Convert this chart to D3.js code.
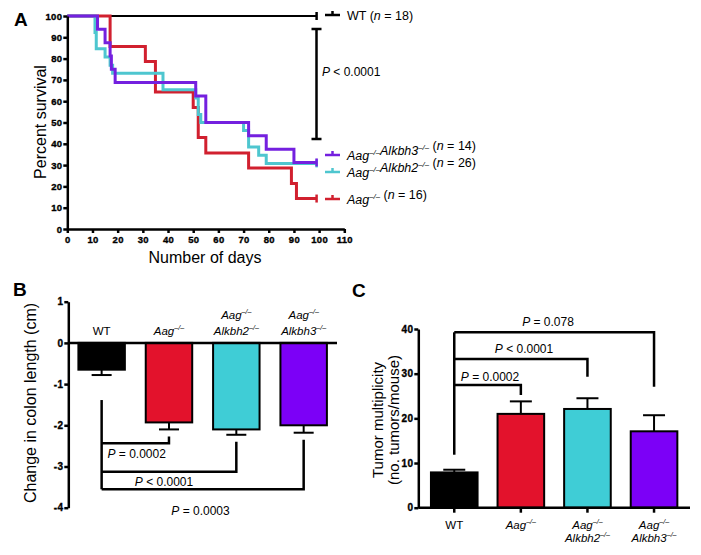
<!DOCTYPE html>
<html><head><meta charset="utf-8">
<script src="https://cdn.jsdelivr.net/npm/d3@7"></script>
<style>
body{margin:0;background:#fff;}
svg{display:block;font-family:"Liberation Sans",Arial,Helvetica,sans-serif;}
</style></head>
<body>
<svg id="c" width="701" height="555"></svg>
<script>
// ---------- DATA ----------
// Panel A: Kaplan–Meier steps [day, percent survival]
const survWT = [[0,100]];
const survAag = [[0,100],[17,85.7],[31,78.6],[35,64.3],[50,57.1],[52,42.9],[55,35.7],[72,28.6],[89,21.4],[91,14.3]];
const survAlkbh2 = [[0,100],[11,92.3],[11.5,84.6],[15,80.8],[17,76.9],[18,73.1],[38,65.4],[51,61.5],[52,53.8],[53,50],[70,46.2],[72,38.5],[76,34.6],[79,30.8]];
const survAlkbh3 = [[0,100],[12,93.75],[15,87.5],[17,81.25],[17.5,75],[19,68.75],[51,62.5],[55,50],[72,43.75],[79,37.5],[90,31.25]];
const survEndDay = 99;
const survXTicks = [0,10,20,30,40,50,60,70,80,90,100,110];
const survYTicks = [0,10,20,30,40,50,60,70,80,90,100];
const survLegend = [
  {key:"WT", n:18},
  {key:"Alkbh3", n:14},
  {key:"Alkbh2", n:26},
  {key:"Aag", n:16}
];
// Panel B: change in colon length (cm)
const groups = ["WT","Aag","Alkbh2","Alkbh3"];
const colonMean = [-0.65, -1.93, -2.10, -2.00];
const colonErr  = [-0.78, -2.10, -2.23, -2.18];
const colonTicks = [1,0,-1,-2,-3,-4];
const colonP = ["P = 0.0002","P < 0.0001","P = 0.0003"];
// Panel C: tumor multiplicity
const tumorMean = [7.9, 21.0, 22.1, 17.1];
const tumorErr  = [8.5, 23.8, 24.5, 20.7];
const tumorTicks = [0,10,20,30,40];
const tumorP = ["P = 0.0002","P < 0.0001","P = 0.078"];

const colors = {WT:"#000000", Aag:"#e3122c", Alkbh2:"#3fcdd6", Alkbh3:"#7c00f7"};
const lineColors = {WT:"#000000", Aag:"#d1202f", Alkbh2:"#4ec6cf", Alkbh3:"#7420df"};
const MINUS = "\u2013/\u2013";

const svg = d3.select("#c");

// helper: gene label with superscripts
function geneText(sel, parts){
  parts.forEach(p=>{
    sel.append("tspan").attr("font-style","italic").text(p);
    sel.append("tspan").attr("font-style","italic").attr("font-size","0.62em").attr("dy",-5).text(MINUS);
    sel.append("tspan").attr("dy",5).text("");
  });
}
function groupLines(g){
  if(g==="WT") return [["WT"]];
  if(g==="Aag") return [["Aag"]];
  return [["Aag"],[g]];
}
function styleAxis(g, size){
  g.attr("font-family",null).attr("font-size",null);
  g.select(".domain").attr("stroke","#000").attr("stroke-width",2.5);
  g.selectAll(".tick line").attr("stroke","#000").attr("stroke-width",2.5);
  g.selectAll(".tick text").attr("font-family","Liberation Sans, Arial, sans-serif")
    .attr("font-weight","bold").attr("font-size",size||9.5).attr("fill","#000")
    .attr("stroke","#000").attr("stroke-width",0.35).attr("letter-spacing",0.3);
}

// ================= PANEL A =================
const xA = d3.scaleLinear().domain([0,110]).range([67.3,344.3]);
const yA = d3.scaleLinear().domain([0,100]).range([229,16]);
const gA = svg.append("g");

const line = d3.line().x(d=>xA(d[0])).y(d=>yA(d[1])).curve(d3.curveStepAfter);
const seriesA = [
  {key:"WT", data:survWT, w:2},
  {key:"Aag", data:survAag, w:3},
  {key:"Alkbh2", data:survAlkbh2, w:3},
  {key:"Alkbh3", data:survAlkbh3, w:3}
];
seriesA.forEach(s=>{
  const pts = s.data.concat([[survEndDay, s.data[s.data.length-1][1]]]);
  gA.append("path").attr("d",line(pts)).attr("fill","none")
    .attr("stroke",lineColors[s.key]).attr("stroke-width",s.w);
  const last = pts[pts.length-1];
  gA.append("line").attr("x1",xA(last[0])).attr("x2",xA(last[0]))
    .attr("y1",yA(last[1])-4).attr("y2",yA(last[1])+4)
    .attr("stroke",lineColors[s.key]).attr("stroke-width",2.5);
});

const axYA = d3.axisLeft(yA).tickValues(survYTicks).tickSize(4).tickPadding(1).tickSizeOuter(0);
const axXA = d3.axisBottom(xA).tickValues(survXTicks).tickSize(4).tickPadding(3).tickSizeOuter(0);
gA.append("g").attr("transform",`translate(${xA(0)},0)`).call(axYA).call(g=>styleAxis(g,9.5));
gA.append("g").attr("transform",`translate(0,${yA(0)})`).call(axXA).call(g=>styleAxis(g,9.5));

gA.append("text").attr("x",14).attr("y",26).attr("font-size",19).attr("font-weight","bold").text("A");
gA.append("text").attr("transform","translate(46,122) rotate(-90)").attr("text-anchor","middle")
  .attr("font-size",16).text("Percent survival");
gA.append("text").attr("x",205).attr("y",263).attr("text-anchor","middle")
  .attr("font-size",16).text("Number of days");

// P bracket
const bx = 316.5;
gA.append("path").attr("d",`M${bx-5},29H${bx+5}M${bx},29V139M${bx-5},139H${bx+5}`)
  .attr("stroke","#000").attr("stroke-width",2.5).attr("fill","none");
const pA = gA.append("text").attr("x",322).attr("y",76).attr("font-size",12);
pA.append("tspan").attr("font-style","italic").text("P");
pA.append("tspan").text(" < 0.0001");

// legend
const legY = {WT:15, Alkbh3:155, Alkbh2:172, Aag:199};
survLegend.forEach(L=>{
  const y = legY[L.key];
  gA.append("line").attr("x1",325).attr("x2",340).attr("y1",y).attr("y2",y)
    .attr("stroke",lineColors[L.key]).attr("stroke-width",2.5);
  gA.append("line").attr("x1",332.5).attr("x2",332.5).attr("y1",y-4).attr("y2",y+1)
    .attr("stroke",lineColors[L.key]).attr("stroke-width",2.5);
  const t = gA.append("text").attr("x",347).attr("y",y+4.5).attr("font-size",12.5);
  if(L.key==="WT"){ t.append("tspan").text("WT"); }
  else if(L.key==="Aag"){ geneText(t,["Aag"]); }
  else { geneText(t,["Aag", L.key]); }
  t.append("tspan").text(" (");
  t.append("tspan").attr("font-style","italic").text("n");
  t.append("tspan").text(" = " + L.n + ")");
});

// ================= PANEL B =================
const xB = d3.scaleBand().domain(groups).range([68.3,337]).paddingInner(0.31).paddingOuter(0.15);
const yB = d3.scaleLinear().domain([-4,1]).range([507.7,301.7]);
const gB = svg.append("g");

groups.forEach((g,i)=>{
  const cx = xB(g)+xB.bandwidth()/2;
  gB.append("line").attr("x1",cx).attr("x2",cx).attr("y1",yB(colonMean[i])).attr("y2",yB(colonErr[i]))
    .attr("stroke","#000").attr("stroke-width",2);
  gB.append("line").attr("x1",cx-10).attr("x2",cx+10).attr("y1",yB(colonErr[i])).attr("y2",yB(colonErr[i]))
    .attr("stroke","#000").attr("stroke-width",2);
  gB.append("rect").attr("x",xB(g)).attr("width",xB.bandwidth())
    .attr("y",yB(0)).attr("height",yB(colonMean[i])-yB(0))
    .attr("fill",colors[g]).attr("stroke","#000").attr("stroke-width",2);
  const lines = groupLines(g);
  lines.forEach((ln,j)=>{
    const t = gB.append("text").attr("x",cx).attr("y",335 - (lines.length-1-j)*16)
      .attr("text-anchor","middle").attr("font-size",11.5);
    if(g==="WT") t.text("WT"); else geneText(t,ln);
  });
});
gB.append("line").attr("x1",68.3).attr("x2",337).attr("y1",yB(0)).attr("y2",yB(0))
  .attr("stroke","#000").attr("stroke-width",2.5);
const axYB = d3.axisLeft(yB).tickValues(colonTicks).tickSize(4).tickPadding(1).tickSizeOuter(0)
  .tickFormat(d=>d<0?"-"+Math.abs(d):d);
gB.append("g").attr("transform",`translate(68.3,0)`).call(axYB).call(g=>styleAxis(g,10));

gB.append("text").attr("x",13).attr("y",296).attr("font-size",19).attr("font-weight","bold").text("B");
gB.append("text").attr("transform","translate(36,403) rotate(-90)").attr("text-anchor","middle")
  .attr("font-size",16).text("Change in colon length (cm)");

const cWT = xB("WT")+xB.bandwidth()/2;
const bLevels = [443.3, 471.7, 489.3];
gB.append("line").attr("x1",cWT).attr("x2",cWT).attr("y1",yB(colonErr[0])+25).attr("y2",bLevels[2])
  .attr("stroke","#000").attr("stroke-width",2.5);
[1,2,3].forEach((k,j)=>{
  const cx = xB(groups[k])+xB.bandwidth()/2;
  gB.append("path").attr("d",`M${cWT},${bLevels[j]}H${cx}V${yB(colonErr[k])+7}`)
    .attr("fill","none").attr("stroke","#000").attr("stroke-width",2.5);
});
const pBpos = [[107.5,458,"start"],[164,486,"middle"],[200.5,515,"middle"]];
colonP.forEach((p,j)=>{
  const t = gB.append("text").attr("x",pBpos[j][0]).attr("y",pBpos[j][1])
    .attr("text-anchor",pBpos[j][2]).attr("font-size",12);
  t.append("tspan").attr("font-style","italic").text("P");
  t.append("tspan").text(p.slice(1));
});

// ================= PANEL C =================
const xC = d3.scaleBand().domain(groups).range([418.3,690]).paddingInner(0.3).paddingOuter(0.19);
const yC = d3.scaleLinear().domain([0,40]).range([507.7,329]);
const gC = svg.append("g");
groups.forEach((g,i)=>{
  const cx = xC(g)+xC.bandwidth()/2;
  gC.append("line").attr("x1",cx).attr("x2",cx).attr("y1",yC(tumorMean[i])).attr("y2",yC(tumorErr[i]))
    .attr("stroke","#000").attr("stroke-width",2);
  gC.append("line").attr("x1",cx-11).attr("x2",cx+11).attr("y1",yC(tumorErr[i])).attr("y2",yC(tumorErr[i]))
    .attr("stroke","#000").attr("stroke-width",2);
  gC.append("rect").attr("x",xC(g)).attr("width",xC.bandwidth())
    .attr("y",yC(tumorMean[i])).attr("height",yC(0)-yC(tumorMean[i]))
    .attr("fill",colors[g]).attr("stroke","#000").attr("stroke-width",2);
  const lines = groupLines(g);
  lines.forEach((ln,j)=>{
    const t = gC.append("text").attr("x",cx).attr("y",529 + j*12.5)
      .attr("text-anchor","middle").attr("font-size",11.5);
    if(g==="WT") t.text("WT"); else geneText(t,ln);
  });
});
const axYC = d3.axisLeft(yC).tickValues(tumorTicks).tickSize(4).tickPadding(1).tickSizeOuter(0);
gC.append("g").attr("transform",`translate(418.3,0)`).call(axYC).call(g=>styleAxis(g,10));
const axXC = d3.axisBottom(xC).tickSize(5).tickSizeOuter(0).tickFormat("");
const gxC = gC.append("g").attr("transform",`translate(0,${yC(0)})`).call(axXC).call(g=>styleAxis(g,10));
gxC.select(".domain").attr("d",`M418.3,0H690`);

gC.append("text").attr("x",352).attr("y",297).attr("font-size",19).attr("font-weight","bold").text("C");
gC.append("text").attr("transform","translate(383,420) rotate(-90)").attr("text-anchor","middle")
  .attr("font-size",15).text("Tumor multiplicity");
gC.append("text").attr("transform","translate(399,420) rotate(-90)").attr("text-anchor","middle")
  .attr("font-size",15).text("(no. tumors/mouse)");

const cWTc = xC("WT")+xC.bandwidth()/2;
const cLevels = [385, 359, 332.3];
gC.append("line").attr("x1",cWTc).attr("x2",cWTc).attr("y1",yC(tumorErr[0])-15).attr("y2",cLevels[2])
  .attr("stroke","#000").attr("stroke-width",2.5);
[1,2,3].forEach((k,j)=>{
  const cx = xC(groups[k])+xC.bandwidth()/2;
  const drop = [395, 376.7, 386.7][j];
  gC.append("path").attr("d",`M${cWTc},${cLevels[j]}H${cx}V${drop}`)
    .attr("fill","none").attr("stroke","#000").attr("stroke-width",2.5);
});
const pCpos = [[490,381],[524,353],[548,326]];
tumorP.forEach((p,j)=>{
  const t = gC.append("text").attr("x",pCpos[j][0]).attr("y",pCpos[j][1])
    .attr("text-anchor","middle").attr("font-size",12);
  t.append("tspan").attr("font-style","italic").text("P");
  t.append("tspan").text(p.slice(1));
});
</script>
</body></html>
